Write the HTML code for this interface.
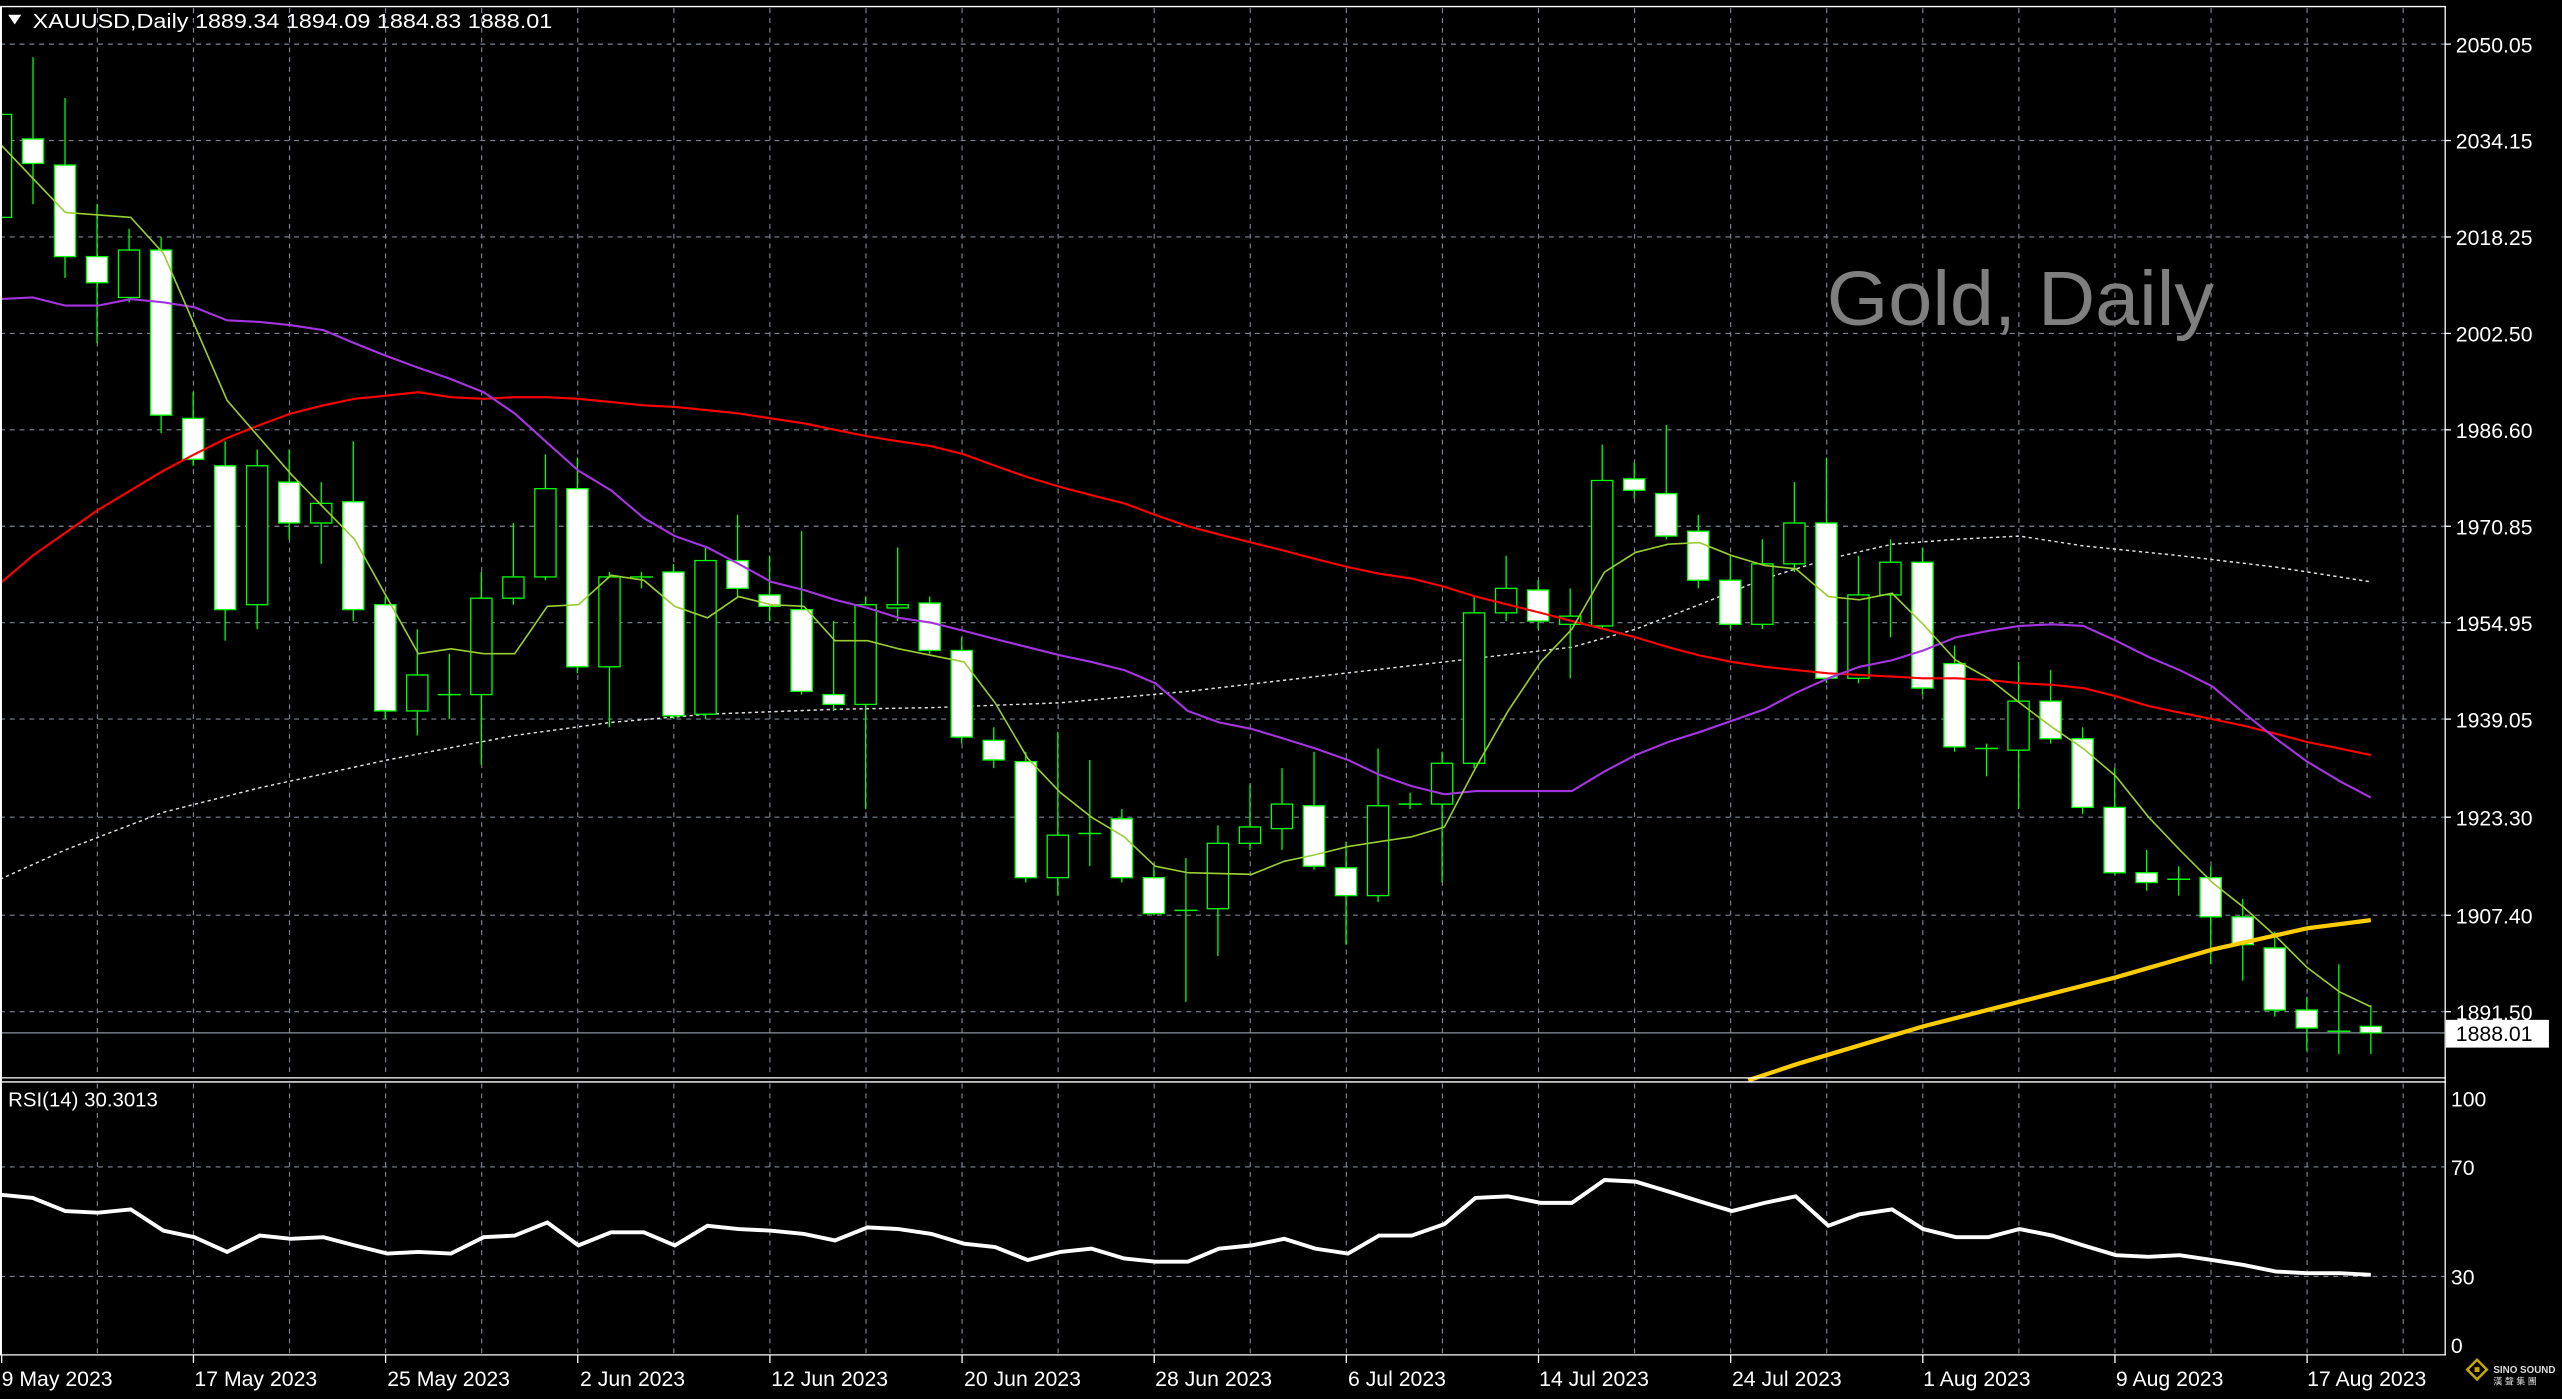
<!DOCTYPE html>
<html><head><meta charset="utf-8"><style>
html,body{margin:0;padding:0;background:#000;width:2562px;height:1399px;overflow:hidden}
svg{display:block}
text{font-family:"Liberation Sans",sans-serif;fill:#fff}
</style></head><body>
<svg id="s" width="2562" height="1399" viewBox="0 0 1568 856" preserveAspectRatio="none" xmlns="http://www.w3.org/2000/svg">
<rect width="1568" height="856" fill="#000"/>
<g id="grid" stroke="#7d8594" stroke-width="0.7" stroke-dasharray="3,3"></g>
<line x1="0" y1="632" x2="1496" y2="632" stroke="#8a93a3" stroke-width="0.8"/>
<polyline id="gma" fill="none" stroke="#e0e0e0" stroke-width="0.9" stroke-dasharray="2,2"/>
<g id="candles"></g>
<polyline id="red" fill="none" stroke="#ff0000" stroke-width="1.3"/>
<polyline id="pur" fill="none" stroke="#a335e0" stroke-width="1.3"/>
<polyline id="ma5" fill="none" stroke="#9acd32" stroke-width="1"/>
<polyline id="yel" fill="none" stroke="#ffcc00" stroke-width="2.6" points="1070,661 1100,651 1177,628 1236,613 1295,598 1354,581 1412,568 1451,563"/>
<polyline id="rsi" fill="none" stroke="#fff" stroke-width="2.4"/>
<line x1="0" y1="4" x2="1497" y2="4" stroke="#fff" stroke-width="0.8"/>
<line x1="1496.5" y1="4" x2="1496.5" y2="829" stroke="#fff" stroke-width="0.8"/>
<line x1="0" y1="659.5" x2="1497" y2="659.5" stroke="#fff" stroke-width="0.8"/>
<line x1="0" y1="662" x2="1497" y2="662" stroke="#fff" stroke-width="0.8"/>
<line x1="0" y1="829" x2="1497" y2="829" stroke="#fff" stroke-width="0.8"/>
<rect x="0" y="4" width="1.2" height="825" fill="#fff"/>
<polygon points="5,9 13,9 9,15" fill="#fff"/>
<text x="20" y="17" font-size="12.5" textLength="318" lengthAdjust="spacingAndGlyphs">XAUUSD,Daily  1889.34 1894.09 1884.83 1888.01</text>
<text x="1118" y="199" font-size="47" textLength="237" lengthAdjust="spacingAndGlyphs" style="fill:#7f7f7f">Gold, Daily</text>
<text x="5" y="677" font-size="12.5">RSI(14) 30.3013</text>
<g font-size="13">
<text x="1503" y="32">2050.05</text>
<text x="1503" y="91">2034.15</text>
<text x="1503" y="150">2018.25</text>
<text x="1503" y="209">2002.50</text>
<text x="1503" y="268">1986.60</text>
<text x="1503" y="327">1970.85</text>
<text x="1503" y="386">1954.95</text>
<text x="1503" y="445">1939.05</text>
<text x="1503" y="505">1923.30</text>
<text x="1503" y="565">1907.40</text>
<text x="1503" y="624">1891.50</text>
</g>
<rect x="1497" y="624" width="63" height="17" fill="#fff"/>
<text x="1503" y="637" font-size="13" style="fill:#000">1888.01</text>
<g font-size="13">
<text x="1500" y="677">100</text>
<text x="1500" y="719">70</text>
<text x="1500" y="786">30</text>
<text x="1500" y="828">0</text>
</g>
<g stroke="#fff" stroke-width="0.8">
<line x1="1496" y1="27" x2="1500" y2="27"/><line x1="1496" y1="86" x2="1500" y2="86"/><line x1="1496" y1="145" x2="1500" y2="145"/><line x1="1496" y1="204" x2="1500" y2="204"/><line x1="1496" y1="263" x2="1500" y2="263"/><line x1="1496" y1="322" x2="1500" y2="322"/><line x1="1496" y1="381" x2="1500" y2="381"/><line x1="1496" y1="440" x2="1500" y2="440"/><line x1="1496" y1="500" x2="1500" y2="500"/><line x1="1496" y1="560" x2="1500" y2="560"/><line x1="1496" y1="619" x2="1500" y2="619"/>
</g>
<g font-size="13">
<text x="1" y="848">9 May 2023</text>
<text x="119" y="848">17 May 2023</text>
<text x="237" y="848">25 May 2023</text>
<text x="355" y="848">2 Jun 2023</text>
<text x="472" y="848">12 Jun 2023</text>
<text x="590" y="848">20 Jun 2023</text>
<text x="707" y="848">28 Jun 2023</text>
<text x="825" y="848">6 Jul 2023</text>
<text x="942" y="848">14 Jul 2023</text>
<text x="1060" y="848">24 Jul 2023</text>
<text x="1177" y="848">1 Aug 2023</text>
<text x="1295" y="848">9 Aug 2023</text>
<text x="1412" y="848">17 Aug 2023</text>
</g>
<g id="dt" stroke="#fff" stroke-width="0.8"></g>
<g transform="translate(1510,832)"><polygon points="6,0 12,6 6,12 0,6" fill="none" stroke="#c9a800" stroke-width="1.5"/><rect x="4.5" y="4.5" width="3" height="3" fill="#c9a800"/></g>
<text x="1526" y="840" font-size="6" font-weight="bold" style="fill:#ddd">SINO SOUND</text>
<text x="1526" y="847" font-size="5.5" style="fill:#ddd">漢 聲 集 團</text>
</svg>
<script>
var NS="http://www.w3.org/2000/svg";
function el(p,t,a){var e=document.createElementNS(NS,t);for(var k in a)e.setAttribute(k,a[k]);p.appendChild(e);return e;}
var g=document.getElementById('grid');
for(var k=-1;k<=24;k++){var x=1412-58.8*k;if(x<1||x>1495)continue;el(g,'line',{x1:x,y1:5,x2:x,y2:659});el(g,'line',{x1:x,y1:663,x2:x,y2:829});}
[27,86,145,204,263,322,381,440,500,560,619].forEach(function(y){el(g,'line',{x1:0,y1:y,x2:1496,y2:y});});
[714,781].forEach(function(y){el(g,'line',{x1:0,y1:y,x2:1496,y2:y});});
var dt=document.getElementById('dt');
for(var k=0;k<13;k++){var x=1412-117.6*(12-k);if(x<1)x=1;el(dt,'line',{x1:x,y1:829,x2:x,y2:834});}
var C=[['b',70,133,45,133],['r',85,100,35,125],['r',101,157,60,170],['r',157,173,125,210],['b',153,182,140,185],['r',153,254,145,265],['r',256,281,240,285],['r',285,373,270,392],['b',285,370,275,385],['r',295,320,275,330],['b',308,320,295,345],['r',307,373,270,380],['r',370,435,365,440],['b',413,435,385,450],['d',425,426,400,440],['b',366,425,350,468],['b',353,366,320,370],['b',299,353,278,355],['r',299,408,280,412],['b',353,408,350,445],['d',353,354,350,360],['r',350,438,345,440],['b',343,437,335,440],['r',343,360,315,365],['r',364,371,340,380],['r',373,423,325,425],['r',425,431,380,435],['b',370,431,365,495],['b',370,372,335,380],['r',369,398,365,400],['r',398,451,390,455],['r',453,465,445,470],['r',466,537,460,540],['b',511,537,448,548],['d',510,511,465,530],['r',501,537,495,540],['r',537,559,530,560],['d',557,558,525,613],['b',516,556,505,585],['b',506,516,480,520],['b',492,507,470,520],['r',493,530,460,532],['r',531,548,515,578],['b',493,548,458,552],['d',492,493,485,495],['b',467,492,460,540],['b',375,467,365,470],['b',360,375,340,380],['r',361,380,355,385],['b',377,382,360,415],['b',294,383,272,385],['r',293,300,283,305],['r',302,328,260,330],['r',325,355,315,360],['r',355,382,340,385],['b',345,382,330,385],['b',320,345,295,350],['r',320,415,280,418],['b',364,415,340,418],['b',344,364,330,390],['r',344,421,335,425],['r',406,457,395,460],['d',458,459,455,475],['b',429,459,405,495],['r',429,452,410,455],['r',452,494,445,498],['r',494,534,470,535],['r',534,540,520,545],['d',538,539,530,548],['r',537,561,530,590],['r',561,578,550,600],['r',580,618,570,622],['r',618,629,610,643],['d',631,632,590,645],['r',628,632,615,645]];
var cg=document.getElementById('candles');
C.forEach(function(c,i){var x=1451-(74-i)*19.6;
 el(cg,'line',{x1:x,y1:c[3],x2:x,y2:c[4],stroke:'#00ff00','stroke-width':0.8});
 if(c[0]=='d'){el(cg,'line',{x1:x-7,y1:c[1],x2:x+7,y2:c[1],stroke:'#00ff00','stroke-width':0.9});}
 else el(cg,'rect',{x:x-6.5,y:c[1],width:13,height:Math.max(1,c[2]-c[1]),fill:c[0]=='r'?'#fff':'#000',stroke:'#00ff00','stroke-width':0.8});
});
function pts(id,a){document.getElementById(id).setAttribute('points',a);}
pts('ma5',"0,88 40,130 80,133 100,155 139,245 178,290 217,330 256,400 276,397 296,400 315,400 335,371 354,370 374,352 394,355 413,371 433,378 452,365 472,370 492,371 511,392 531,392 550,397 590,405 609,430 629,464 649,485 668,500 688,512 707,530 727,534 766,535 786,527 805,523 825,518 844,515 864,512 884,506 903,470 923,435 943,405 962,385 982,350 1001,338 1021,333 1040,332 1060,340 1080,346 1099,348 1119,365 1138,367 1158,363 1177,382 1197,404 1217,415 1236,430 1256,445 1275,458 1295,475 1315,500 1334,520 1354,540 1373,555 1393,573 1412,592 1432,607 1451,616");
pts('pur',"0,183 20,182 40,187 60,187 80,183 100,185 119,188 139,196 159,197 178,199 198,202 217,210 237,218 256,225 276,232 296,240 315,253 335,271 354,288 374,300 394,317 413,328 433,335 452,345 472,356 492,361 511,367 531,372 550,378 570,381 590,386 609,391 629,396 649,401 668,405 688,410 707,418 727,435 746,442 766,446 786,452 805,458 825,465 844,474 864,481 884,486 903,484 923,484 962,484 982,472 1001,462 1021,454 1040,448 1060,441 1080,434 1099,424 1119,415 1138,408 1158,404 1177,398 1197,390 1217,386 1236,383 1256,382 1275,383 1295,392 1315,402 1334,410 1354,420 1373,436 1393,452 1412,466 1432,478 1451,488");
pts('red',"0,357 20,340 40,326 60,312 80,300 100,288 119,278 139,268 159,260 178,253 198,248 217,244 237,242 256,240 276,243 296,244 315,243 335,243 354,244 374,246 394,248 413,249 433,251 452,253 472,256 492,259 511,263 531,267 550,270 570,273 590,278 609,285 629,292 649,298 668,303 688,308 707,315 727,322 746,327 766,332 786,337 805,342 825,347 844,351 864,354 884,359 903,365 923,370 943,375 962,380 982,385 1001,390 1021,396 1040,401 1060,405 1080,408 1099,410 1119,412 1138,413 1158,414 1177,415 1197,415 1217,416 1236,418 1256,419 1275,421 1295,426 1315,432 1334,436 1354,440 1373,444 1393,449 1412,454 1432,458 1451,462");
pts('gma',"0,538 40,520 100,497 159,482 237,465 315,450 374,442 433,437 511,434 570,433 649,430 727,423 805,414 884,405 962,396 1001,385 1040,370 1080,354 1119,342 1158,333 1197,330 1236,328 1275,334 1334,340 1393,347 1451,356");
pts('rsi',"0,731 20,733 40,741 60,742 80,740 100,753 119,757 139,766 159,756 178,758 198,757 217,762 237,767 256,766 276,767 296,757 315,756 335,748 354,762 374,754 394,754 413,762 433,750 452,752 472,753 492,755 511,759 531,751 550,752 570,755 590,761 609,763 629,771 649,766 668,764 688,770 707,772 727,772 746,764 766,762 786,758 805,764 825,767 844,756 864,756 884,749 903,733 923,732 943,736 962,736 982,722 1001,723 1021,729 1040,735 1060,741 1080,736 1099,732 1119,750 1138,743 1158,740 1177,752 1197,757 1217,757 1236,752 1256,756 1275,762 1295,768 1315,769 1334,768 1354,771 1373,774 1393,778 1412,779 1432,779 1451,780");
</script>
</body></html>
